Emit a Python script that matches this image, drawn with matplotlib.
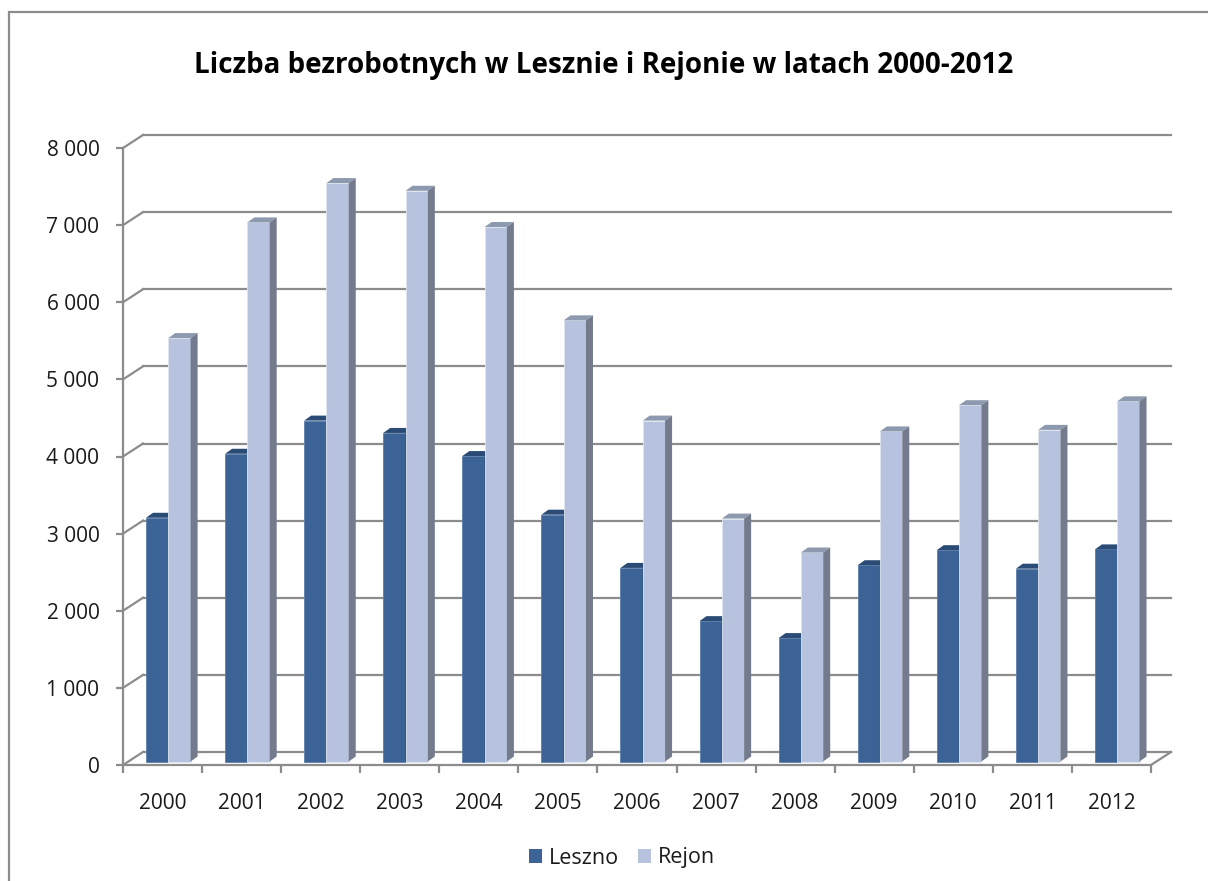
import matplotlib
matplotlib.use("Agg")
import matplotlib.pyplot as plt
from matplotlib.patches import Polygon, Rectangle, Patch

lata = ['2000', '2001', '2002', '2003', '2004', '2005', '2006',
        '2007', '2008', '2009', '2010', '2011', '2012']
leszno = [3160, 3990, 4420, 4260, 3960, 3200, 2510, 1820, 1600, 2545, 2740, 2500, 2750]
rejon = [5490, 6990, 7500, 7400, 6930, 5720, 4420, 3150, 2710, 4280, 4620, 4300, 4670]
ticki_y = [0, 1000, 2000, 3000, 4000, 5000, 6000, 7000, 8000]
etykiety_y = ['0', '1 000', '2 000', '3 000', '4 000', '5 000', '6 000', '7 000', '8 000']

W, H = 1208, 881
plt.rcParams['font.family'] = ['Open Sans', 'DejaVu Sans']

fig = plt.figure(figsize=(W / 100, H / 100), dpi=100)

# przednia plaszczyzna wykresu (piksele)
x0, x1, y_top, y_bot = 123, 1151, 148, 765
ax = fig.add_axes([x0 / W, (H - y_bot) / H, (x1 - x0) / W, (y_bot - y_top) / H])
n = len(lata)
ymax = 8000
ax.set_xlim(0, n)
ax.set_ylim(0, ymax)

px_x = (x1 - x0) / n          # pikseli na kategorie
px_y = (y_bot - y_top) / ymax  # pikseli na jednostke

# glebokosc 3D w jednostkach danych
gx, gy = 20 / px_x, 13 / px_y        # sciana tylna
bx, by = 6 / px_x, 3.5 / px_y        # plaszczyzna slupkow
dx, dy = 7 / px_x, 5 / px_y          # glebokosc slupka

siatka = '#8c8c8c'
for v in ticki_y:
    ax.plot([gx, n + gx], [v + gy, v + gy], color=siatka, lw=1.6, clip_on=False, zorder=1)
    ax.plot([0, gx], [v, v + gy], color=siatka, lw=1.6, clip_on=False, zorder=1)
ax.plot([n, n + gx], [0, gy], color=siatka, lw=1.6, clip_on=False, zorder=1)

szer = 0.282
c_l, c_l_top = '#3c6395', '#2a4b75'
c_r, c_r_top, c_r_side = '#b7c3de', '#8d99ae', '#737b8c'

for i in range(n):
    for k, (vals, front, top, side) in enumerate([(leszno, c_l, c_l_top, c_l_top),
                                                   (rejon, c_r, c_r_top, c_r_side)]):
        h = vals[i]
        left = i + 0.215 + k * szer + bx
        base = by
        z = 3 + 2 * i + k
        ax.add_patch(Rectangle((left, base), szer, h, facecolor=front,
                               edgecolor='#dfe6f0' if k else '#5d80ad', lw=0.6, zorder=z, clip_on=False))
        ax.add_patch(Polygon([(left, base + h), (left + szer, base + h),
                              (left + szer + dx, base + h + dy), (left + dx, base + h + dy)],
                             closed=True, facecolor=top, edgecolor='none', zorder=z, clip_on=False))
        ax.add_patch(Polygon([(left + szer, base), (left + szer, base + h),
                              (left + szer + dx, base + h + dy), (left + szer + dx, base + dy)],
                             closed=True, facecolor=side, edgecolor='none', zorder=z, clip_on=False))

for s in ['top', 'right']:
    ax.spines[s].set_visible(False)
for s in ['left', 'bottom']:
    ax.spines[s].set_color(siatka)
    ax.spines[s].set_linewidth(1.6)
    ax.spines[s].set_zorder(2)

ax.set_yticks(ticki_y)
ax.set_yticklabels(etykiety_y)
ax.tick_params(axis='y', length=5, width=1.6, color=siatka, pad=12, labelsize=15, labelcolor='#1a1a1a')
ax.set_xticks(range(n + 1))
ax.set_xticklabels([])
ax.tick_params(axis='x', length=6, width=1.6, color=siatka)
ax.set_xticks([i + 0.5 for i in range(n)], minor=True)
ax.set_xticklabels(lata, minor=True)
ax.tick_params(axis='x', which='minor', length=0, pad=20, labelsize=15, labelcolor='#1a1a1a')
ax.patch.set_visible(False)

fig.text(0.5, (H - 73) / H, 'Liczba bezrobotnych w Lesznie i Rejonie w latach 2000-2012',
         ha='center', va='baseline', fontsize=20, fontweight='bold', color='black')

uchwyty = [Patch(facecolor=c_l, label='Leszno'), Patch(facecolor=c_r, label='Rejon')]
fig.legend(handles=uchwyty, loc='center', bbox_to_anchor=(622 / W, (H - 858) / H), ncol=2,
           frameon=False, fontsize=15.5, handlelength=0.6, handleheight=0.6,
           handletextpad=0.3, columnspacing=0.9, labelcolor='#1a1a1a')

fig.add_artist(Rectangle((9 / W, -0.1), 2, (H - 12) / H + 0.1, transform=fig.transFigure,
                         fill=False, edgecolor='#8c8c8c', lw=1.6))

fig.savefig('out.png', dpi=100)
